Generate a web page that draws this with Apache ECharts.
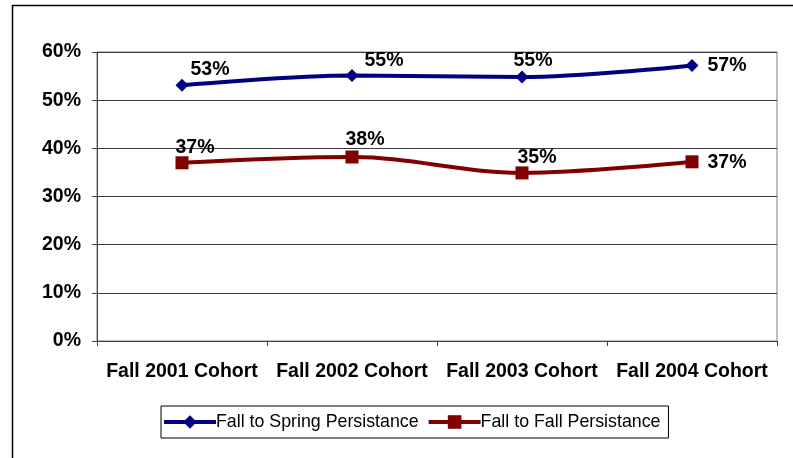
<!DOCTYPE html>
<html>
<head>
<meta charset="utf-8">
<title>Persistance by Cohort</title>
<script src="https://cdn.jsdelivr.net/npm/echarts@6/dist/echarts.min.js"></script>
<style>
  html, body { margin: 0; padding: 0; background: #fff; }
  #chart { width: 793px; height: 458px; }
</style>
</head>
<body>
<div id="chart"></div>
<script>
// data
const cohorts = ['Fall 2001 Cohort', 'Fall 2002 Cohort', 'Fall 2003 Cohort', 'Fall 2004 Cohort']
const springPersist = [0.531, 0.551, 0.548, 0.572]
const fallPersist = [0.370, 0.382, 0.349, 0.372]
const seriesNames = ['Fall to Spring Persistance', 'Fall to Fall Persistance']

// where each value label sits relative to its point
const springLabelOffset = [[28, -16], [32, -15], [11, -16], [35, 0]]
const fallLabelOffset = [[13, -15], [13, -17], [15, -15], [35, 1]]

const font = 'Arial, "Liberation Sans", sans-serif'
const pct = v => Math.round(v * 100) + '%'

function withLabels(values, offsets) {
  return values.map((v, i) => ({
    value: v,
    label: { offset: offsets[i] }
  }))
}

const chart = echarts.init(document.getElementById('chart'), null, { renderer: 'canvas' })

const valueLabel = {
  show: true,
  position: 'inside',
  color: '#000',
  fontFamily: font,
  fontSize: 19.5,
  fontWeight: 'bold',
  formatter: p => pct(p.value)
}

const options = {
  animation: false,
  textStyle: { fontFamily: font },
  graphic: [{
    type: 'rect',
    shape: { x: 12.5, y: 5.5, width: 900, height: 600 },
    style: { fill: 'none', stroke: '#000', lineWidth: 1.5 },
    silent: true
  }],
  grid: {
    left: 97,
    top: 52,
    right: 16,
    bottom: 117,
    show: true,
    borderColor: '#808080',
    borderWidth: 1
  },
  legend: {
    left: 161,
    top: 406,
    padding: [7, 8, 7, 1],
    itemGap: 8,
    itemWidth: 52,
    itemHeight: 17,
    borderColor: '#000',
    borderWidth: 1,
    lineStyle: { width: 4 },
    textStyle: { fontFamily: font, fontSize: 17.8, color: '#000', padding: [0, 0, 0, -5] },
    data: seriesNames
  },
  xAxis: {
    type: 'category',
    data: cohorts,
    boundaryGap: true,
    axisLine: { lineStyle: { color: '#404040', width: 1 } },
    axisTick: { show: true, length: 5, lineStyle: { color: '#404040' } },
    axisLabel: {
      interval: 0,
      margin: 21,
      fontFamily: font,
      fontSize: 19.5,
      fontWeight: 'bold',
      color: '#000'
    }
  },
  yAxis: {
    type: 'value',
    min: 0,
    max: 0.6,
    interval: 0.1,
    axisLine: { show: true, lineStyle: { color: '#404040', width: 1 } },
    axisTick: { show: true, length: 5, lineStyle: { color: '#404040' } },
    splitLine: { show: true, lineStyle: { color: '#3a3a3a', width: 1 } },
    axisLabel: {
      margin: 16,
      fontFamily: font,
      fontSize: 19.5,
      fontWeight: 'bold',
      color: '#000',
      formatter: pct
    }
  },
  series: [
    {
      name: seriesNames[0],
      type: 'line',
      smooth: 0.35,
      symbol: 'diamond',
      symbolSize: 13,
      itemStyle: { color: '#000080' },
      lineStyle: { color: '#000080', width: 4 },
      label: valueLabel,
      data: withLabels(springPersist, springLabelOffset)
    },
    {
      name: seriesNames[1],
      type: 'line',
      smooth: 0.35,
      symbol: 'rect',
      symbolSize: 13,
      itemStyle: { color: '#800000' },
      lineStyle: { color: '#800000', width: 4 },
      label: valueLabel,
      data: withLabels(fallPersist, fallLabelOffset)
    }
  ]
}

chart.setOption(options)
</script>
</body>
</html>
